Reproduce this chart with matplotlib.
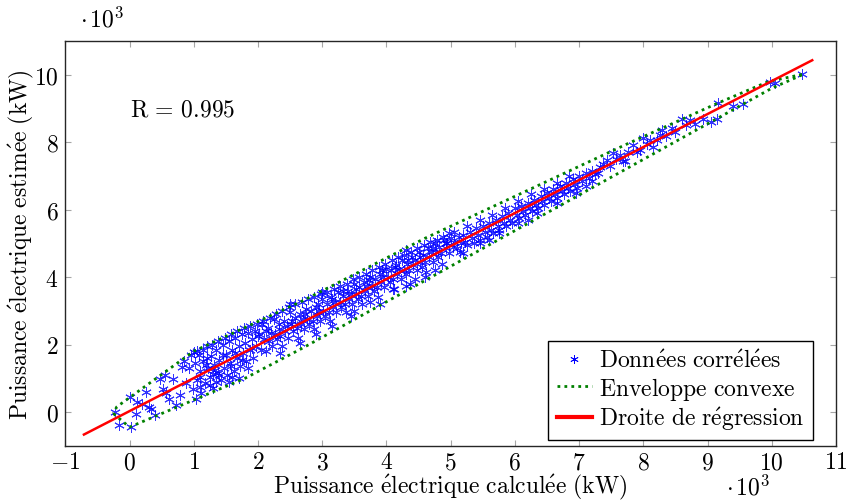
import matplotlib
matplotlib.use("Agg")
import matplotlib.pyplot as plt
from matplotlib.lines import Line2D

plt.rcParams['mathtext.fontset'] = 'cm'
plt.rcParams['font.family'] = ['cmr10', 'DejaVu Serif']
plt.rcParams['axes.unicode_minus'] = False

# ---- data (units of 10^3 kW) ----
pts_x = [
    -0.23, -0.16, 0.03, 0.10, 0.00, 0.26, 0.39, 0.34, 0.52, 0.62, 0.47, 0.67, 0.73, 0.78, 0.81,
    0.99, 1.04, 1.01, 1.09, 1.19, 1.30, 1.25, 0.20, 0.57, 0.88, 0.92, 0.30, 0.12,
    1.02, 1.05, 1.08, 1.10, 1.12, 1.15, 1.18, 1.20, 1.22, 1.25, 1.27, 1.30, 1.32, 1.35, 1.37,
    1.40, 1.42, 1.45, 1.47, 1.50, 1.52, 1.55, 1.57, 1.60, 1.62, 1.65, 1.67, 1.70, 1.72, 1.75,
    1.77, 1.80, 1.82, 1.85, 1.87, 1.90, 1.92, 1.95, 1.97, 2.00, 1.55, 1.70, 1.40,
    0.55, 0.85, 0.95, 1.05, 1.15, 1.28, 1.38, 1.48, 1.58, 1.68, 1.78, 1.88, 1.98, 1.10, 1.35,
    1.60, 1.85, 1.20, 1.45, 1.65, 1.90, 1.33, 1.58, 1.75,
    2.02, 2.05, 2.07, 2.10, 2.12, 2.15, 2.17, 2.20, 2.22, 2.25, 2.27, 2.30, 2.32, 2.35, 2.37,
    2.40, 2.42, 2.45, 2.47, 2.50, 2.52, 2.55, 2.57, 2.60, 2.62, 2.65, 2.67, 2.70, 2.72, 2.75,
    2.77, 2.80, 2.82, 2.85, 2.87, 2.90, 2.92, 2.95, 2.97, 3.00, 3.02, 3.05, 3.07, 3.10, 3.12,
    3.15, 3.17, 3.20, 3.22, 3.25, 3.27, 3.30, 3.32, 3.35, 3.37, 3.40, 3.42, 3.45, 3.47, 3.50,
    3.52, 3.55, 3.57, 3.60, 3.62, 3.65, 3.67, 3.70, 3.72, 3.75, 3.77, 3.80, 3.82, 3.85, 3.87,
    3.90, 3.92, 3.95, 3.97, 4.00, 4.02, 4.05, 4.07, 4.10, 4.12, 4.15, 4.17, 4.20, 4.22, 4.25,
    4.27, 4.30, 4.32, 4.35, 4.37, 4.40, 4.42, 4.45, 4.47, 4.50, 4.52, 4.55, 4.57, 4.60, 4.62,
    4.65, 4.67, 4.70, 4.72, 4.75, 4.77, 4.80, 4.82, 4.85, 4.87, 4.90, 4.92, 4.95, 4.97,
    3.90, 4.10, 4.31, 2.90, 3.50, 4.60, 2.50, 3.00, 4.30,
    2.08, 2.18, 2.28, 2.38, 2.48, 2.58, 2.68, 2.78, 2.88, 2.98, 3.08, 3.18, 3.28, 3.38, 3.48,
    3.58, 3.68, 3.78, 3.88, 3.98, 4.08, 4.18, 4.28, 4.38, 4.48, 4.58, 4.68, 4.78, 4.88, 4.98,
    2.35, 2.65, 3.15, 3.45, 3.75, 4.45, 4.75,
    2.13, 2.33, 2.53, 2.73, 2.93, 3.13, 3.33, 3.53, 3.73, 3.93, 4.13, 4.33, 4.53, 4.73, 4.93,
    5.00, 5.03, 5.06, 5.10, 5.13, 5.16, 5.20, 5.23, 5.26, 5.30, 5.33, 5.36, 5.40, 5.43, 5.46,
    5.50, 5.53, 5.56, 5.60, 5.63, 5.66, 5.70, 5.73, 5.76, 5.80, 5.83, 5.86, 5.90, 5.93, 5.96,
    6.00, 6.03, 6.06, 6.10, 6.13, 6.16, 6.20, 6.23, 6.26, 6.30, 6.33, 6.36, 6.40, 6.43, 6.46,
    6.50, 6.53, 6.56, 6.60, 6.63, 6.66, 6.70, 6.73, 6.76, 6.80, 6.83, 6.86, 6.90, 6.93, 6.96,
    7.00, 7.05, 7.10, 7.15, 7.20, 5.60, 6.20, 5.20,
    5.05, 5.25, 5.45, 5.65, 5.85, 6.05, 6.25, 6.45, 6.65, 6.85, 5.15, 5.45, 5.75, 6.05, 6.35,
    6.65, 6.95, 7.10, 7.20, 7.30,
    7.25, 7.32, 7.38, 7.43, 7.48, 7.53, 7.58, 7.64, 7.68, 7.71, 7.76, 7.84, 7.90, 7.95, 8.00,
    8.05, 8.10, 8.15, 8.22, 8.26, 8.29, 8.36, 8.44, 8.50, 8.60, 8.66, 8.73, 8.80,
    8.93, 9.06, 9.14, 9.16, 9.40, 9.55, 9.97, 10.05, 10.47,
]
pts_y = [
    0.00, -0.38, -0.44, -0.05, 0.45, 0.60, -0.10, 0.10, 0.69, 0.39, 0.98, 0.98, 0.20, 0.49, 1.33,
    0.69, 0.39, 1.77, 1.03, 1.38, 1.13, 0.79, 0.25, 0.55, 0.85, 1.30, 0.15, 0.30,
    1.45, 0.95, 1.70, 1.20, 0.55, 1.50, 0.85, 1.95, 1.30, 1.05, 1.65, 0.70, 1.40, 1.85, 1.15,
    1.55, 0.95, 2.00, 1.30, 1.70, 1.10, 2.10, 1.45, 1.85, 1.20, 2.20, 1.60, 1.95, 1.35, 2.30,
    1.75, 2.05, 1.50, 2.35, 1.85, 2.15, 1.60, 2.40, 1.95, 2.25, 0.90, 1.00, 1.10,
    1.10, 1.50, 1.70, 1.80, 1.85, 2.00, 2.10, 2.20, 2.30, 2.40, 2.50, 2.55, 2.60, 0.75, 0.90,
    1.05, 1.30, 1.60, 1.70, 1.75, 1.90, 1.25, 1.35, 1.55,
    2.30, 1.85, 2.60, 2.15, 1.80, 2.50, 2.10, 2.35, 1.95, 2.75, 2.30, 2.15, 2.60, 2.25, 1.95,
    2.70, 2.40, 2.55, 2.20, 2.95, 2.60, 2.40, 2.80, 2.50, 2.20, 2.90, 2.60, 2.75, 2.45, 3.05,
    2.75, 2.60, 3.00, 2.70, 2.45, 3.10, 2.85, 3.00, 2.70, 3.35, 3.00, 2.85, 3.20, 2.95, 2.70,
    3.35, 3.10, 3.25, 2.95, 3.55, 3.25, 3.10, 3.45, 3.20, 2.95, 3.60, 3.35, 3.50, 3.20, 3.80,
    3.50, 3.35, 3.70, 3.45, 3.20, 3.85, 3.60, 3.75, 3.45, 4.00, 3.75, 3.60, 3.95, 3.70, 3.40,
    4.10, 3.85, 4.00, 3.70, 4.25, 4.00, 3.85, 4.20, 3.95, 3.65, 4.35, 4.10, 4.25, 3.95, 4.50,
    4.20, 4.10, 4.40, 4.20, 3.80, 4.60, 4.35, 4.50, 4.20, 4.75, 4.45, 4.30, 4.65, 4.45, 4.15,
    4.85, 4.60, 4.75, 4.45, 5.00, 4.75, 4.60, 4.90, 4.70, 4.40, 5.10, 4.85, 5.00, 4.70,
    3.20, 3.64, 3.74, 2.30, 3.00, 4.00, 3.20, 3.55, 4.80,
    2.70, 2.80, 2.90, 3.00, 3.10, 3.20, 3.25, 3.35, 3.40, 3.50, 3.55, 3.65, 3.75, 3.80, 3.95,
    4.00, 4.10, 4.20, 4.30, 4.40, 4.50, 4.60, 4.65, 4.75, 4.85, 4.95, 5.05, 5.10, 5.20, 5.30,
    1.75, 2.05, 2.55, 2.85, 3.25, 3.95, 4.20,
    2.40, 2.45, 2.70, 2.90, 3.20, 3.40, 3.60, 3.65, 3.90, 4.20, 4.30, 4.50, 4.60, 4.85, 5.00,
    5.15, 4.90, 5.05, 4.85, 5.20, 5.00, 5.25, 5.05, 4.95, 5.35, 5.15, 5.00, 5.45, 5.25, 5.10,
    5.50, 5.35, 5.20, 5.60, 5.40, 5.30, 5.70, 5.50, 5.40, 5.80, 5.60, 5.50, 5.90, 5.70, 5.60,
    6.05, 5.85, 5.75, 6.10, 5.95, 5.85, 6.20, 6.05, 5.95, 6.30, 6.15, 6.05, 6.40, 6.25, 6.15,
    6.50, 6.35, 6.25, 6.60, 6.45, 6.35, 6.70, 6.55, 6.45, 6.80, 6.65, 6.55, 6.90, 6.75, 6.65,
    7.00, 6.85, 7.10, 6.95, 7.15, 5.10, 5.70, 4.70,
    5.35, 5.50, 5.70, 5.85, 6.05, 6.25, 6.45, 6.60, 6.80, 7.00, 4.75, 5.00, 5.30, 5.60, 5.90,
    6.20, 6.50, 6.70, 6.85, 7.10,
    7.05, 7.25, 7.35, 7.48, 7.30, 7.69, 7.50, 7.63, 7.45, 7.43, 7.70, 7.93, 7.70, 7.78, 8.13,
    7.95, 8.07, 7.87, 8.05, 8.22, 8.37, 8.17, 8.42, 8.30, 8.68, 8.50, 8.66, 8.55,
    8.68, 8.61, 8.69, 9.17, 9.06, 9.12, 9.77, 9.75, 10.01,
]

hull_x = [-0.25, 0.00, 1.80, 2.70, 4.65, 7.30, 10.00, 10.50, 9.95, 9.15, 7.75, 4.60, 2.70, 1.00, -0.20, -0.25]
hull_y = [-0.05, -0.45, 1.00, 1.90, 3.95, 6.75, 9.60, 10.02, 9.80, 9.15, 7.95, 5.15, 3.30, 1.80, 0.15, -0.05]

reg_x = [-0.71, 10.63]
reg_y = [-0.67, 10.43]

x_ticks = [-1, 0, 1, 2, 3, 4, 5, 6, 7, 8, 9, 10, 11]
y_ticks = [0, 2, 4, 6, 8, 10]

FS = 17

fig = plt.figure(figsize=(8.47, 5.02), dpi=100)
ax = fig.add_axes([0.0771, 0.1102, 0.9099, 0.8061])

ax.plot(pts_x, pts_y, linestyle='none', marker=(6, 2, 0), markersize=7.5,
        markeredgewidth=0.7, color='blue', alpha=0.8)
ax.plot(hull_x, hull_y, color=(0, 0.5, 0), linewidth=2.0, linestyle=(0, (1, 1.5)))
ax.plot(reg_x, reg_y, color='red', linewidth=1.8)

ax.set_xlim(-1, 11)
ax.set_ylim(-1, 11)
ax.set_xticks(x_ticks)
ax.set_yticks(y_ticks)
ax.set_xticklabels([f'${v}$' for v in x_ticks], fontsize=FS)
ax.set_yticklabels([f'${v}$' for v in y_ticks], fontsize=FS)
ax.tick_params(direction='in', length=4.5, width=0.8, color='0.65', top=True, right=True)
ax.tick_params(axis='x', pad=4)
ax.tick_params(axis='y', pad=5)
for s in ax.spines.values():
    s.set_linewidth(1.0)
    s.set_color('0.15')

ax.set_xlabel(r'$\mathrm{Puissance\ \acute{e}lectrique\ calcul\acute{e}e\ (kW)}$', fontsize=FS)
ax.set_ylabel(r'$\mathrm{Puissance\ \acute{e}lectrique\ estim\acute{e}e\ (kW)}$', fontsize=FS)
ax.xaxis.set_label_coords(0.5, -0.066)
ax.yaxis.set_label_coords(-0.038, 0.5)

fig.text(80 / 847, 1 - 20 / 502, r'$\cdot\,10^3$', fontsize=FS, ha='left', va='center')
fig.text(726 / 847, 1 - 488 / 502, r'$\cdot\,10^3$', fontsize=FS, ha='left', va='center')

ax.text(0.0, 8.96, r'$\mathrm{R}\,=\,0.995$', fontsize=FS, ha='left', va='center')

handles = [
    Line2D([], [], linestyle='none', marker=(6, 2, 0), markersize=6, markeredgewidth=0.6, color='blue'),
    Line2D([], [], color=(0, 0.5, 0), linewidth=2.0, linestyle=(0, (1, 1.5))),
    Line2D([], [], color='red', linewidth=3.0),
]
labels = [
    r'$\mathrm{Donn\acute{e}es\ corr\acute{e}l\acute{e}es}$',
    r'$\mathrm{Enveloppe\ convexe}$',
    r'$\mathrm{Droite\ de\ r\acute{e}gression}$',
]
leg = ax.legend(handles, labels, loc='lower right', bbox_to_anchor=(0.970, 0.013),
                fontsize=FS, frameon=True, fancybox=False,
                edgecolor='black', framealpha=1, borderpad=0.35, labelspacing=0.12,
                handlelength=1.5, handletextpad=0.3, borderaxespad=0.0)
leg.get_frame().set_linewidth(1.0)

fig.savefig('out.png', dpi=100)
